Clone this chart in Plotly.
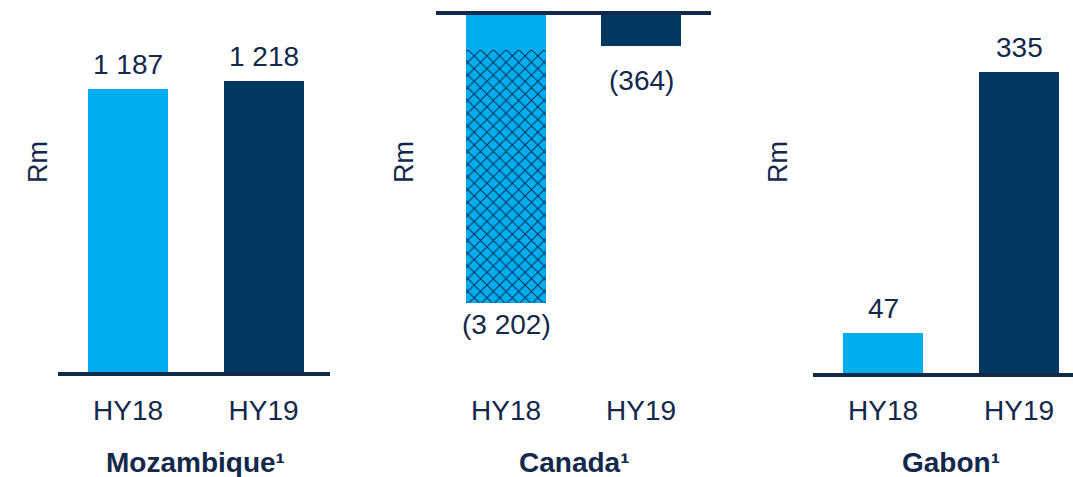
import plotly.graph_objects as go

# ---- data (Rm) ----
periods = ["HY18", "HY19"]
mozambique = [1187, 1218]
canada_base = [-410, -364]          # solid portion of each bar
canada_hatched_hy18 = [-2792]       # hatched portion, HY18 only
gabon = [47, 335]
titles = ["Mozambique¹", "Canada¹", "Gabon¹"]
unit_label = "Rm"

canada_total = [canada_base[0] + canada_hatched_hy18[0], canada_base[1]]

# ---- styling ----
W, H = 1073, 477
LIGHT = "#00AEEF"
NAVY = "#02375F"
TEXT = "#13294B"
FONT = "Liberation Sans, Arial, sans-serif"


def fmt(v):
    s = f"{abs(v):,}".replace(",", " ")
    return f"({s})" if v < 0 else s


def xp(px):
    return px / W


def yp(py):
    return 1 - py / H


# plot area top / bottom in pixels (shared by the three panels)
TOP, BOTTOM = 5, 380


def y_range(zero_px, per_px):
    return [-(BOTTOM - zero_px) * per_px, (zero_px - TOP) * per_px]


def x_range(a, b, c0, c1):
    u = c1 - c0
    return [(a - c0) / u, 1 + (b - c1) / u]


# panel geometry: baseline extents, bar centres, zero-line pixel, units per pixel
panels = [
    dict(a=58, b=330, c0=128, c1=263.5, zero=374, k=4.16),
    dict(a=436, b=711, c0=506, c1=641, zero=13, k=11.04),
    dict(a=813, b=1073, c0=883, c1=1019, zero=375, k=1.106),
]

BAR_W = 80 / 135.5

fig = go.Figure()

fig.add_trace(go.Bar(
    x=periods, y=mozambique, width=BAR_W,
    marker=dict(color=[LIGHT, NAVY], line=dict(width=0)),
    xaxis="x", yaxis="y", hoverinfo="skip",
))
fig.add_trace(go.Bar(
    x=periods, y=canada_base, width=BAR_W,
    marker=dict(color=[LIGHT, NAVY], line=dict(width=0)),
    xaxis="x2", yaxis="y2", hoverinfo="skip",
))
fig.add_trace(go.Bar(
    x=periods[:1], y=canada_hatched_hy18, width=BAR_W,
    marker=dict(
        color=LIGHT, line=dict(width=0),
        pattern=dict(shape="x", fgcolor=NAVY, bgcolor=LIGHT,
                     size=9, solidity=0.24, fillmode="replace"),
    ),
    xaxis="x2", yaxis="y2", hoverinfo="skip",
))
fig.add_trace(go.Bar(
    x=periods, y=gabon, width=BAR_W,
    marker=dict(color=[LIGHT, NAVY], line=dict(width=0)),
    xaxis="x3", yaxis="y3", hoverinfo="skip",
))

layout = dict(
    width=W, height=H,
    margin=dict(l=0, r=0, t=0, b=0),
    paper_bgcolor="white", plot_bgcolor="white",
    showlegend=False, barmode="relative", bargap=0,
    font=dict(family=FONT, color=TEXT, size=27),
)

for i, p in enumerate(panels):
    sx = "" if i == 0 else str(i + 1)
    layout[f"xaxis{sx}"] = dict(
        domain=[xp(p["a"]), xp(p["b"])],
        range=x_range(p["a"], p["b"], p["c0"], p["c1"]),
        anchor=f"y{sx}", type="category",
        showgrid=False, zeroline=False, showline=False, ticks="",
        tickfont=dict(family=FONT, size=28, color=TEXT),
        ticklabelstandoff=11, fixedrange=True,
    )
    layout[f"yaxis{sx}"] = dict(
        domain=[yp(BOTTOM), yp(TOP)],
        range=y_range(p["zero"], p["k"]),
        anchor=f"x{sx}",
        showgrid=False, zeroline=False, showline=False,
        showticklabels=False, ticks="", fixedrange=True,
    )

fig.update_layout(**layout)

# baselines at zero
for i in range(3):
    sx = "" if i == 0 else str(i + 1)
    fig.add_shape(
        type="line", xref=f"x{sx} domain", yref=f"y{sx}",
        x0=0, x1=1, y0=0, y1=0,
        line=dict(color=TEXT, width=4), layer="above",
    )

# value labels
label_font = dict(family=FONT, size=28, color=TEXT)
for j, v in enumerate(mozambique):
    fig.add_annotation(x=periods[j], y=v, xref="x", yref="y", text=fmt(v),
                       showarrow=False, yanchor="bottom", yshift=7, font=label_font)
for j, v in enumerate(gabon):
    fig.add_annotation(x=periods[j], y=v, xref="x3", yref="y3", text=fmt(v),
                       showarrow=False, yanchor="bottom", yshift=7, font=label_font)
canada_shift = [-4, -17]
for j, v in enumerate(canada_total):
    fig.add_annotation(x=periods[j], y=v, xref="x2", yref="y2", text=fmt(v),
                       showarrow=False, yanchor="top", yshift=canada_shift[j],
                       font=label_font)

# panel titles
for i, t in enumerate(titles):
    sx = "" if i == 0 else str(i + 1)
    fig.add_annotation(x=0.5, y=yp(462), xref=f"x{sx}", yref="paper",
                       text=f"<b>{t}</b>", showarrow=False,
                       xanchor="center", yanchor="middle",
                       font=dict(family=FONT, size=28, color=TEXT))

# unit labels
for cx, cy in [(38, 162), (404, 162), (778, 162)]:
    fig.add_annotation(x=xp(cx), y=yp(cy), xref="paper", yref="paper",
                       text=unit_label, textangle=-90, showarrow=False,
                       xanchor="center", yanchor="middle",
                       font=dict(family=FONT, size=27, color=TEXT))

fig.write_html("out.html")
